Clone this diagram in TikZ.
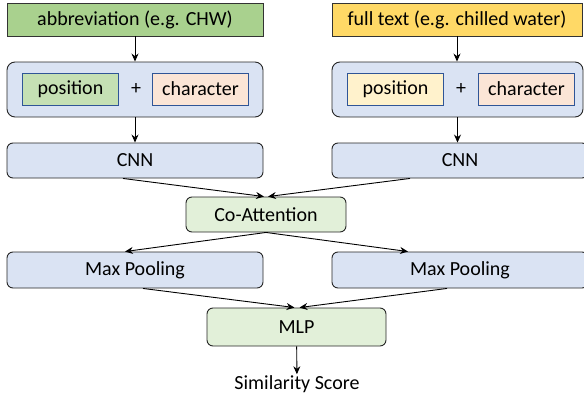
\documentclass[tikz,border=0pt]{standalone}
\usepackage{fontspec}
\setmainfont{Carlito}
\usetikzlibrary{positioning,arrows.meta}

\definecolor{abbrgreen}{HTML}{A9D18E}
\definecolor{fullyellow}{HTML}{FFD966}
\definecolor{embblue}{HTML}{DAE3F3}
\definecolor{posgreen}{HTML}{C5E0B4}
\definecolor{posyellow}{HTML}{FFF2CC}
\definecolor{charpink}{HTML}{FBE5D6}
\definecolor{layergreen}{HTML}{E2F0D9}
\definecolor{innerblue}{HTML}{2F5597}

\begin{document}
\begin{tikzpicture}[x=1pt,y=-1pt,
    txt/.style={font=\fontsize{20}{24}\selectfont, text=black},
    inputbox/.style={txt, draw=black!80, line width=0.9pt, inner sep=0pt, minimum height=33},
    embbox/.style={draw=black!85, line width=0.9pt, fill=embblue, rounded corners=8pt, minimum height=55, inner sep=0pt},
    partbox/.style={txt, draw=innerblue, line width=0.9pt, inner sep=0pt, minimum width=96, minimum height=32},
    layerbox/.style={txt, draw=black!85, line width=0.9pt, rounded corners=6pt, inner sep=0pt, minimum height=35},
    link/.style={-{Stealth[length=8pt,width=7pt]}, line width=0.9pt}]
    \useasboundingbox (0,0) rectangle (584,399);
    % inputs
    \node[inputbox, fill=abbrgreen, minimum width=256] (abbr) at (135,19.5) {abbreviation (e.g. CHW)};
    \node[inputbox, fill=fullyellow, minimum width=250] (full) at (457,19.5) {full text (e.g. chilled water)};
    % embeddings
    \node[embbox, minimum width=256] (embL) at (135,89.5) {};
    \node[embbox, minimum width=251] (embR) at (457.5,89.5) {};
    \node[partbox, fill=posgreen] (posL) at (70.5,89) {position};
    \node[partbox, fill=charpink] (charL) at (200.5,89) {character};
    \node[txt] (plusL) at (136,89) {+};
    \node[partbox, fill=posyellow] (posR) at (395.5,89) {position};
    \node[partbox, fill=charpink] (charR) at (526.5,89) {character};
    \node[txt] (plusR) at (461,89) {+};
    % layers
    \node[layerbox, fill=embblue, minimum width=256] (cnnL) at (135,160.5) {CNN};
    \node[layerbox, fill=embblue, minimum width=256] (cnnR) at (460,160.5) {CNN};
    \node[layerbox, fill=layergreen, minimum width=160] (coatt) at (266,214.5) {Co-Attention};
    \node[layerbox, fill=embblue, minimum width=256, minimum height=36] (mpL) at (135,270) {Max Pooling};
    \node[layerbox, fill=embblue, minimum width=256, minimum height=36] (mpR) at (460,270) {Max Pooling};
    \node[layerbox, fill=layergreen, minimum width=179, minimum height=38] (mlp) at (296.5,327) {MLP};
    \node[txt, inner sep=1pt] (score) at (297,384) {Similarity Score};
    % connectors
    \draw[link] (abbr) -- (embL);
    \draw[link] (full) -- (full |- embR.north);
    \draw[link] (embL) -- (cnnL);
    \draw[link] (embR.south) -- (embR.south |- cnnR.north);
    \draw[link] ([xshift=-12]cnnL.south) -- ([xshift=-2]coatt.north);
    \draw[link] ([xshift=-50]cnnR.south) -- ([xshift=2]coatt.north);
    \draw[link] (coatt.south) -- ([xshift=-10]mpL.north);
    \draw[link] (coatt.south) -- ([xshift=-52]mpR.north);
    \draw[link] ([xshift=8]mpL.south) -- ([xshift=-2]mlp.north);
    \draw[link] ([xshift=-13]mpR.south) -- ([xshift=3]mlp.north);
    \draw[link] (mlp) -- (score);
\end{tikzpicture}
\end{document}
